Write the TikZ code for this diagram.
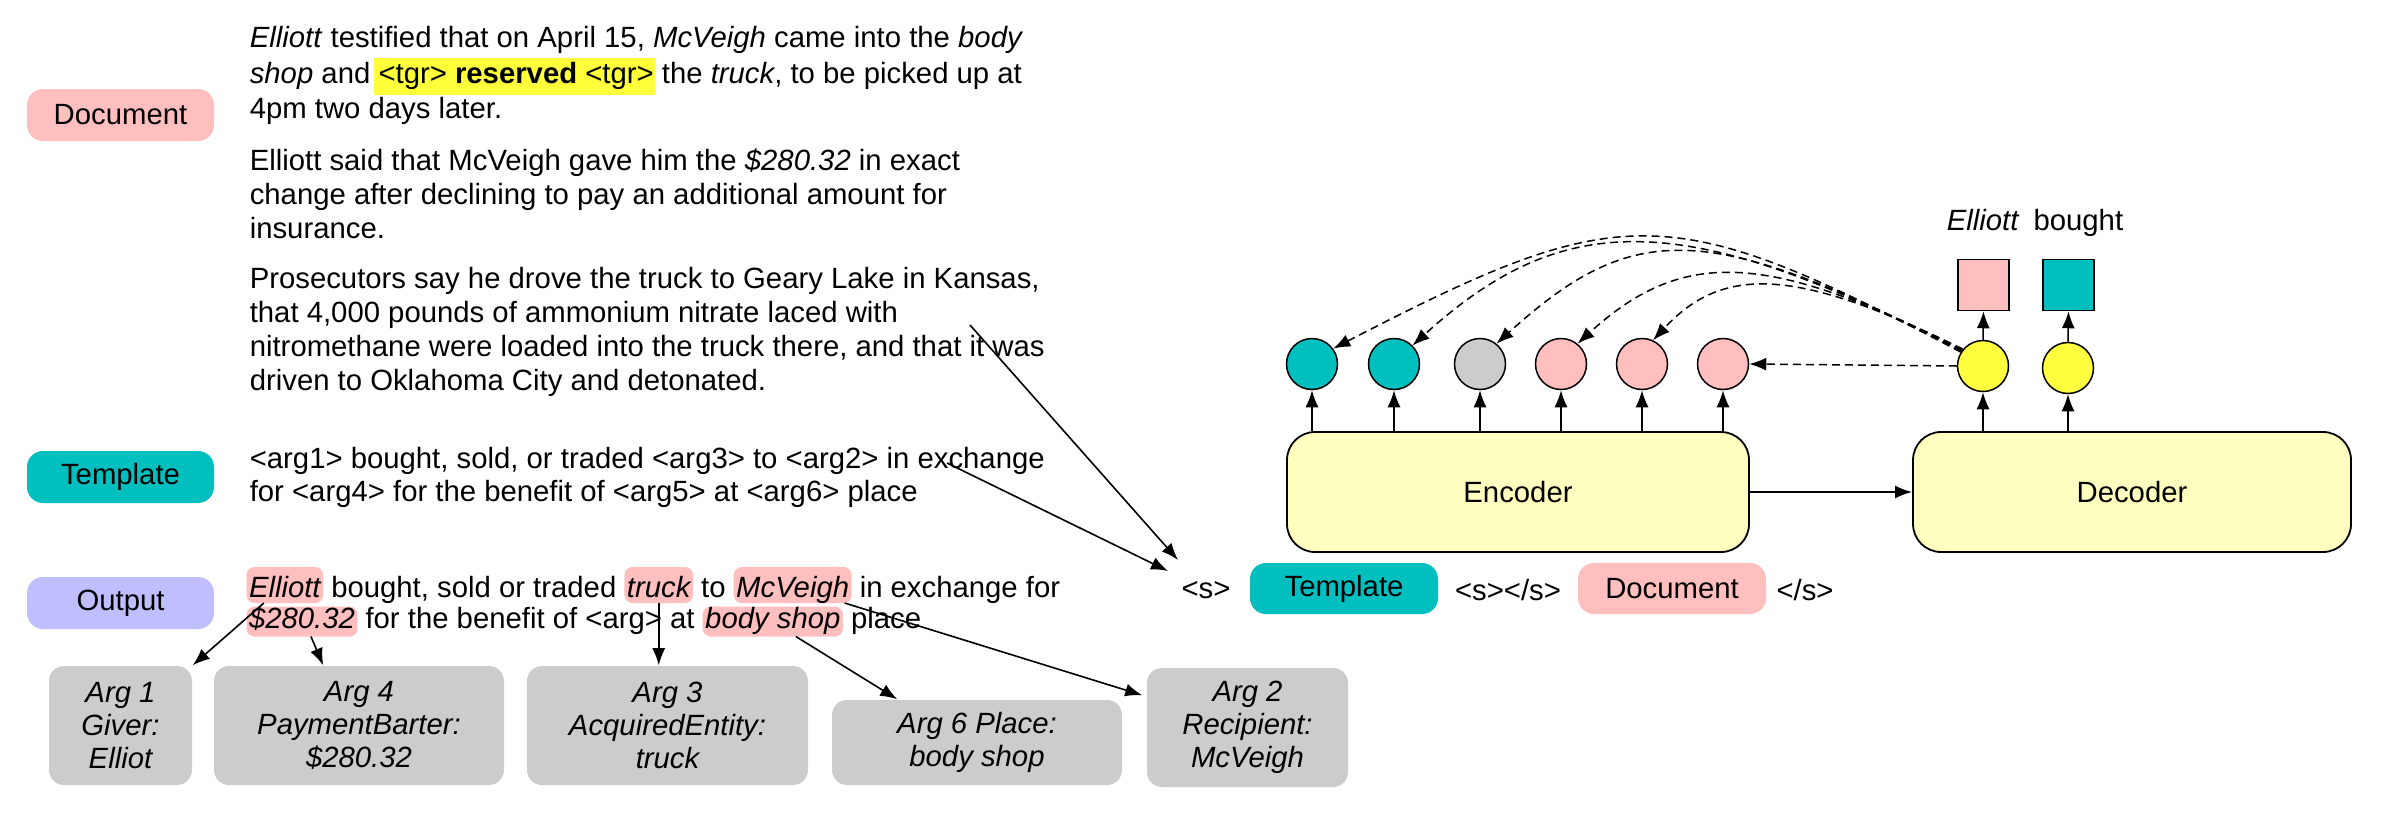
\documentclass[tikz,border=0pt]{standalone}
\usepackage{fontspec}
\setmainfont{Liberation Sans}
\usetikzlibrary{arrows.meta}
\definecolor{tealc}{RGB}{0,191,191}
\definecolor{pinkc}{RGB}{255,191,191}
\definecolor{lavc}{RGB}{191,191,255}
\definecolor{grayc}{RGB}{204,204,204}
\definecolor{lyel}{RGB}{255,255,192}
\definecolor{byel}{RGB}{255,255,64}
\definecolor{hly}{RGB}{255,255,60}
\newsavebox{\hlsave}
\newcommand\ylw[1]{\sbox{\hlsave}{#1}\smash{\rlap{\kern-4.5pt\textcolor{hly}{\rule[-12pt]{\dimexpr\wd\hlsave+5.5pt\relax}{37pt}}}}\usebox{\hlsave}}
\newcommand\fst{\rule{0pt}{24pt}}
\newcommand\tsp{\ \mbox{}}
\begin{document}
\begin{tikzpicture}[x=1pt,y=-1pt,
  font=\fontsize{29.3}{34}\selectfont,
  line width=1.6pt,
  >={Latex[length=17pt,width=13pt]},
  lbl/.style={rounded corners=16pt, minimum width=187pt, minimum height=52pt, inner sep=0pt},
  para/.style={anchor=north west, align=left, inner sep=0pt},
  hla/.style={fill=pinkc, rounded corners=8pt, inner xsep=2.5pt, inner ysep=0pt, outer sep=0pt, anchor=base west, text height=30pt, text depth=6pt},
  hlb/.style={fill=pinkc, rounded corners=8pt, inner xsep=2.5pt, inner ysep=0pt, outer sep=0pt, anchor=base west, text height=21.5pt, text depth=8.5pt},
  pl/.style={inner sep=0pt, outer sep=0pt, anchor=base west},
  argbox/.style={fill=grayc, rounded corners=15pt, align=center, inner sep=0pt, font=\fontsize{29.3}{33}\selectfont\itshape},
  blk/.style={draw, fill=lyel, rounded corners=28pt, minimum height=120pt, inner sep=0pt, line width=1.8pt},
  tok/.style={circle, draw, minimum size=51pt, inner sep=0pt, line width=1.5pt},
  sq/.style={draw, minimum size=51pt, inner sep=0pt, line width=1.5pt},
  dsh/.style={->, dash pattern=on 8pt off 5pt, line width=1.5pt},
  tokarr/.style={->, line width=1.5pt}
]
\useasboundingbox (0,0) rectangle (2382,814);

% left labels
\node[lbl, fill=pinkc] (ldoc) at (120.5,115) {Document};
\node[lbl, fill=tealc] (ltmp) at (120.5,477) {Template};
\node[lbl, fill=lavc] (lout) at (120.5,603) {Output};

% document paragraphs
\node[para] (p1) at (249,23) {\fst\textit{Elliott} testified that on April 15, \textit{McVeigh} came into the \textit{body}\\[1.5pt]
\textit{shop} and \ylw{<tgr> \textbf{reserved} <tgr>} the \textit{truck}, to be picked up at\\[1.5pt]
4pm two days later.};
\node[para] (p2) at (249,146) {\fst Elliott said that McVeigh gave him the \textit{\$280.32} in exact\\
change after declining to pay an additional amount for\\
insurance.};
\node[para] (p3) at (249,264) {\fst Prosecutors say he drove the truck to Geary Lake in Kansas,\\
that 4,000 pounds of ammonium nitrate laced with\\
nitromethane were loaded into the truck there, and that it was\\
driven to Oklahoma City and detonated.};

% template text
\node[para, font=\fontsize{29.3}{33}\selectfont] (tt) at (249,444) {\fst <arg1> bought, sold, or traded <arg3> to <arg2> in exchange\\
for <arg4> for the benefit of <arg5> at <arg6> place};

% output text line 1
\node[hla] (oel) at (246.5,597) {\itshape Elliott};
\node[pl] (ot1) at (oel.base east) {\ bought, sold or traded\tsp};
\node[hla] (otr) at (ot1.base east) {\itshape truck};
\node[pl] (ot2) at (otr.base east) {\ to\tsp};
\node[hla] (omc) at (ot2.base east) {\itshape McVeigh};
\node[pl] (ot3) at (omc.base east) {\ in exchange for};
% output text line 2
\node[hlb] (o280) at (246.5,628) {\itshape \$280.32};
\node[pl] (ot4) at (o280.base east) {\ for the benefit of <arg> at\tsp};
\node[hlb] (obs) at (ot4.base east) {\itshape body shop};
\node[pl] (ot5) at (obs.base east) {\ place};

% argument boxes
\node[argbox, minimum width=143pt, minimum height=119pt] (a1) at (120.5,725.5) {Arg 1\\Giver:\\Elliot};
\node[argbox, minimum width=290pt, minimum height=119pt] (a4) at (359,725.5) {Arg 4\\PaymentBarter:\\\$280.32};
\node[argbox, minimum width=281pt, minimum height=119pt] (a3) at (667.5,725.5) {Arg 3\\AcquiredEntity:\\truck};
\node[argbox, minimum width=290pt, minimum height=85pt] (a6) at (977,742.5) {Arg 6 Place:\\body shop};
\node[argbox, minimum width=201pt, minimum height=119pt] (a2) at (1247.5,727.5) {Arg 2\\Recipient:\\McVeigh};

\draw[->] ([xshift=-21pt]oel.south) -- (a1.north east);
\draw[->] ([xshift=9pt]o280.south) -- ([xshift=110pt]a4.north west);
\draw[->] (otr.south) -- (otr.south |- a3.north);
\draw[->] ([xshift=23pt]obs.south) -- ([xshift=66pt]a6.north west);
\draw[->] ([xshift=-7pt]omc.south east) -- ([xshift=-4pt,yshift=-28pt]a2.north west);

% input sequence
\node[inner sep=0pt] (s1) at (1206,590) {<s>};
\node[lbl, fill=tealc, minimum width=188pt, minimum height=51pt] (tpl) at (1344,588.5) {Template};
\node[inner sep=0pt] (s2) at (1508,590) {<s></s>};
\node[lbl, fill=pinkc, minimum width=188pt, minimum height=51pt] (dcb) at (1672,588.5) {Document};
\node[inner sep=0pt] (s3) at (1805,590) {</s>};

\coordinate (stA) at (970,325);
\coordinate (stB) at (947,463);
\coordinate (tipA) at (1178,560);
\coordinate (tipB) at (1168,571);
\draw[->] (stA) -- (tipA);
\draw[->] (stB) -- (tipB);

% encoder / decoder
\node[blk, minimum width=462pt] (enc) at (1518,492) {Encoder};
\node[blk, minimum width=438pt] (dec) at (2132,492) {Decoder};
\draw[->, line width=1.8pt] (enc) -- (dec);

\node[tok, fill=tealc] (e1) at (1312,364) {};
\node[tok, fill=tealc] (e2) at (1394,364) {};
\node[tok, fill=grayc] (e3) at (1480,364) {};
\node[tok, fill=pinkc] (e4) at (1561,364) {};
\node[tok, fill=pinkc] (e5) at (1642,364) {};
\node[tok, fill=pinkc] (e6) at (1723,364) {};
\foreach \n in {e1,e2,e3,e4,e5,e6}{\draw[tokarr] (\n |- enc.north) -- (\n.south);}

\node[tok, fill=byel] (d1) at (1983,366) {};
\node[tok, fill=byel] (d2) at (2068,368) {};
\node[sq, fill=pinkc] (q1) at (1983.5,285) {};
\node[sq, fill=tealc] (q2) at (2068.5,285) {};
\draw[tokarr] (d1 |- dec.north) -- (d1.south);
\draw[tokarr] (d2 |- dec.north) -- (d2.south);
\draw[tokarr] (d1.north) -- (q1.south);
\draw[tokarr] (d2.north) -- (q2.south);

\node[anchor=base, inner sep=0pt] (lab) at (2035,230) {\textit{Elliott}\hspace{14pt}bought};

% attention arrows
\draw[dsh] (d1.west) -- (e6.east);
\draw[dsh] (d1.148) .. controls (1670,199) and (1622,199) .. (e1.36);
\draw[dsh] (d1.146) .. controls (1685,208) and (1564,208) .. (e2.45);
\draw[dsh] (d1.144) .. controls (1707,220) and (1633,220) .. (e3.51);
\draw[dsh] (d1.142) .. controls (1764,249.5) and (1681,249.5) .. (e4.51);
\draw[dsh] (d1.140) .. controls (1794,266) and (1722,266) .. (e5.65);
\end{tikzpicture}
\end{document}
